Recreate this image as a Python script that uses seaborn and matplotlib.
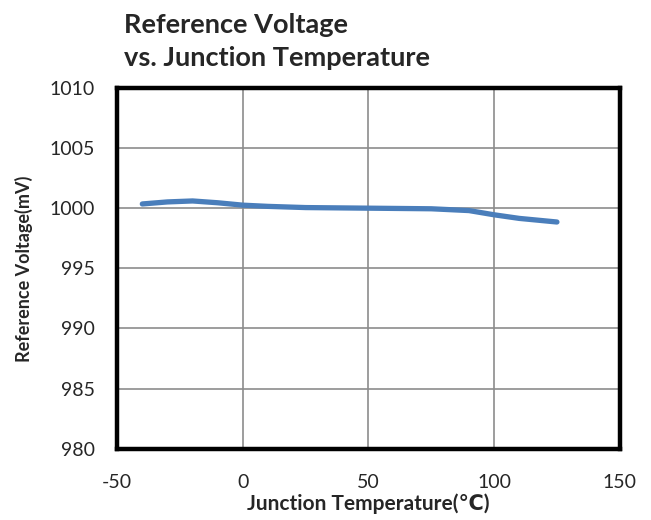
import numpy as np
import pandas as pd
import matplotlib
matplotlib.use("Agg")
import matplotlib.pyplot as plt
import seaborn as sns

# values
temperature = [-40, -30, -20, -10, 0, 10, 25, 50, 75, 90, 100, 110, 125]
voltage = [1000.35, 1000.52, 1000.6, 1000.45, 1000.25, 1000.15, 1000.05, 1000.0, 999.95, 999.8, 999.45, 999.15, 998.85]

x_ticks = [-50, 0, 50, 100, 150]
y_ticks = [980, 985, 990, 995, 1000, 1005, 1010]

df = pd.DataFrame({"Temperature": temperature, "Voltage": voltage})

sns.set_style("white")
plt.rcParams['font.family'] = ['Lato', 'DejaVu Sans']
plt.rcParams['axes.unicode_minus'] = False

fig = plt.figure(figsize=(6.51, 5.2), dpi=100)
ax = fig.add_axes([0.18, 0.137, 0.772, 0.694])

sns.lineplot(data=df, x="Temperature", y="Voltage", ax=ax, color="#4a7ebb",
             linewidth=3.8, solid_capstyle="round")

ax.set_xlim(-50, 150)
ax.set_ylim(980, 1010)
ax.set_xticks(x_ticks)
ax.set_yticks(y_ticks)
ax.grid(True, color="#8c8c8c", linewidth=1.2)
ax.set_axisbelow(True)
for s in ax.spines.values():
    s.set_color("black")
    s.set_linewidth(3.2)
ax.tick_params(axis="x", labelsize=14, length=0, pad=18)
ax.tick_params(axis="y", labelsize=14, length=0, pad=16)

ax.set_xlabel("Junction Temperature(\u2103)", fontsize=15, fontweight="bold", labelpad=2)
ax.set_ylabel("Reference Voltage(mV)", fontsize=13, fontweight="bold", labelpad=12)

fig.text(0.19, 0.92, "Reference Voltage\nvs. Junction Temperature", fontsize=19.5,
         fontweight="bold", ha="left", va="center", linespacing=1.45)

fig.savefig("out.png", dpi=100)
